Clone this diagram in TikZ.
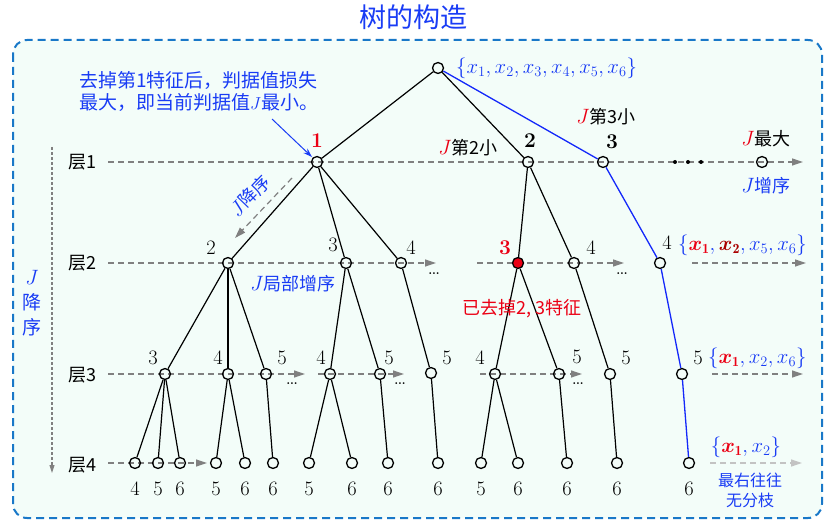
\documentclass[tikz,border=0pt]{standalone}
\usepackage{fontspec}
\usepackage{amsmath}
\usepackage{bm}
\usetikzlibrary{arrows.meta}
\newfontfamily\cjk{Noto Sans CJK SC}
\definecolor{tblue}{RGB}{25,60,245}
\definecolor{pblue}{RGB}{20,40,250}
\definecolor{mred}{RGB}{235,0,20}
\definecolor{dred}{RGB}{170,0,0}
\definecolor{lgray}{RGB}{128,128,128}
\definecolor{vlgray}{RGB}{195,195,195}
\definecolor{boxblue}{RGB}{25,120,200}
\definecolor{boxfill}{RGB}{243,253,249}
\tikzset{
  nd/.style={circle, draw=black, line width=1.3pt, minimum size=11pt, inner sep=0pt},
  rnd/.style={nd, fill=mred},
  bdot/.style={circle, fill=black, minimum size=4pt, inner sep=0pt},
  edge/.style={line width=1.2pt, draw=black},
  bedge/.style={line width=1.3pt, draw=pblue},
  lvl/.style={draw=lgray, dash pattern=on 6pt off 4pt, line width=1.2pt, -{Triangle[length=11pt,width=7pt,fill=lgray]}},
  lvll/.style={lvl, draw=vlgray, -{Triangle[length=11pt,width=7pt,fill=vlgray]}},
  numl/.style={inner sep=0pt, font=\fontsize{20.5}{22}\selectfont},
  bnuml/.style={inner sep=0pt, font=\fontsize{21}{22}\selectfont\bfseries},
  cjkl/.style={inner sep=0pt, font=\fontsize{18}{20}\selectfont\cjk},
  setl/.style={inner sep=0pt, text=tblue, font=\fontsize{20}{22}\selectfont},
  dotsl/.style={inner sep=0pt, font=\fontsize{22}{24}\selectfont},
}
\begin{document}
\begin{tikzpicture}[x=1pt, y=-1pt]
\useasboundingbox (0,0) rectangle (835,526);
% frame
\draw[draw=boxblue, fill=boxfill, line width=2pt, dash pattern=on 8pt off 5pt, rounded corners=14pt] (13,40) rectangle (822,518);
% title
\node[inner sep=0pt, text=tblue, font=\fontsize{27}{30}\selectfont\cjk] (title) at (413,17) {树的构造};

% left vertical arrow and labels
\coordinate (vs) at (52,147);
\coordinate (ve) at (52,473);
\draw[draw=lgray, line width=1.1pt, dash pattern=on 3pt off 2pt, -{Triangle[length=8pt,width=5pt,fill=lgray]}] (vs) -- (ve);
\node[inner sep=0pt, text=tblue, align=center, font=\fontsize{19}{25}\selectfont\cjk] (vj) at (32,303) {\fontsize{21}{25}\selectfont$J$\\降\\序};
\node[cjkl] (L1) at (82,162) {层1};
\node[cjkl] (L2) at (82,263) {层2};
\node[cjkl] (L3) at (82,375) {层3};
\node[cjkl] (L4) at (82,465) {层4};

% level lines
\coordinate (l1s) at (108,162); \coordinate (l1e) at (803,162);
\draw[lvl] (l1s) -- (l1e);
\coordinate (l2s) at (108,263); \coordinate (l2e) at (436,263);
\draw[lvl] (l2s) -- (l2e);
\coordinate (l2s2) at (477,263); \coordinate (l2e2) at (624,263);
\draw[lvl] (l2s2) -- (l2e2);
\coordinate (l2s3) at (692,263); \coordinate (l2e3) at (806,263);
\draw[lvl] (l2s3) -- (l2e3);
\coordinate (l3s) at (108,374); \coordinate (l3e) at (305,374);
\draw[lvl] (l3s) -- (l3e);
\coordinate (l3s2) at (318,374); \coordinate (l3e2) at (404,374);
\draw[lvl] (l3s2) -- (l3e2);
\coordinate (l3s3) at (480,374); \coordinate (l3e3) at (582,374);
\draw[lvl] (l3s3) -- (l3e3);
\coordinate (l3s4) at (712,374); \coordinate (l3e4) at (803,374);
\draw[lvl] (l3s4) -- (l3e4);
\coordinate (l4s) at (108,463); \coordinate (l4e) at (207,463);
\draw[lvl] (l4s) -- (l4e);
\coordinate (l4s2) at (710,463); \coordinate (l4e2) at (802,463);
\draw[lvll] (l4s2) -- (l4e2);

% dots
\node[dotsl] (dt2a) at (434,274) {\ldots};
\node[dotsl] (dt2b) at (622,274) {\ldots};
\node[dotsl] (dt3a) at (292,384) {\ldots};
\node[dotsl] (dt3b) at (400,384) {\ldots};
\node[dotsl] (dt3c) at (578,384) {\ldots};
\node[bdot] (bd1) at (675,162) {};
\node[bdot] (bd2) at (688,162) {};
\node[bdot] (bd3) at (701,162) {};

% nodes
\node[nd] (r) at (438,68) {};
\node[nd] (n1) at (317,162) {};
\node[nd] (n2) at (528,162) {};
\node[nd] (n3) at (603,162) {};
\node[nd] (n4) at (762,162) {};
\node[nd] (a1) at (228,263) {};
\node[nd] (a2) at (346,263) {};
\node[nd] (a3) at (401,263) {};
\node[rnd] (a4) at (518,263) {};
\node[nd] (a5) at (574,263) {};
\node[nd] (a6) at (660,263) {};
\node[nd] (b1) at (165,374) {};
\node[nd] (b2) at (228,374) {};
\node[nd] (b3) at (266,374) {};
\node[nd] (b4) at (330,374) {};
\node[nd] (b5) at (380,374) {};
\node[nd] (b6) at (431,373) {};
\node[nd] (b7) at (495,374) {};
\node[nd] (b8) at (559,374) {};
\node[nd] (b9) at (610,374) {};
\node[nd] (b10) at (682,374) {};
\foreach \i/\x/\t in {1/135/4,2/158/5,3/180/6,4/216/5,5/245/6,6/273/6,7/309/5,8/352/6,9/388/6,10/438/6,11/481/5,12/518/6,13/567/6,14/617/6,15/689/6}{
  \node[nd] (c\i) at (\x,463) {};
  \node[numl] (cl\i) at (\x,489) {\t};
}

% edges
\foreach \a/\b in {r/n1, r/n2, n1/a1, n1/a2, n1/a3, n2/a4, n2/a5,
  a1/b1, a1/b2, a1/b3, a2/b4, a2/b5, a3/b6, a4/b7, a4/b8, a5/b9,
  b1/c1, b1/c2, b1/c3, b2/c4, b2/c5, b3/c6, b4/c7, b4/c8, b5/c9, b6/c10,
  b7/c11, b7/c12, b8/c13, b9/c14}
  \draw[edge] (\a) -- (\b);
\foreach \a/\b in {r/n3, n3/a6, a6/b10, b10/c15}
  \draw[bedge] (\a) -- (\b);

% level 1 labels
\node[bnuml, text=mred] (t1) at (317,141) {1};
\node[bnuml] (t2) at (530,141) {2};
\node[bnuml] (t3) at (612,142) {3};
\node[cjkl] (j2) at (468,148) {\textcolor{mred}{\fontsize{21}{22}\selectfont$J$}第2小};
\node[cjkl] (j3) at (606,117) {\textcolor{mred}{\fontsize{21}{22}\selectfont$J$}第3小};
\node[cjkl] (jmax) at (766,139) {\textcolor{mred}{\fontsize{21}{22}\selectfont$J$}最大};
\node[cjkl, text=tblue] (jinc) at (766,186) {{\fontsize{21}{22}\selectfont$J$}增序};
\node[setl, anchor=west] (s0) at (456,68) {$\{x_1, x_2, x_3, x_4, x_5, x_6\}$};

% annotation
\node[inner sep=0pt, anchor=west, align=left, text=tblue, font=\fontsize{19}{22}\selectfont\cjk] (anno) at (79,91) {去掉第1特征后，判据值损失\\最大，即当前判据值$J$最小。};
\coordinate (annoS) at (272,119);
\draw[draw=tblue, line width=1pt, -{Stealth[length=9pt,width=6pt]}, shorten >=1pt] (annoS) -- (n1.north west);

% J descending along branch
\coordinate (jd1) at (292,178);
\coordinate (jd2) at (235,238);
\draw[lvl] (jd1) -- (jd2);
\node[cjkl, text=tblue, rotate=46] (jdec) at (250,196) {{\fontsize{21}{22}\selectfont$J$}降序};

% level 2 labels
\node[numl] (u1) at (211,248) {2};
\node[numl] (u2) at (333,245) {3};
\node[numl] (u3) at (411,248) {4};
\node[bnuml, text=mred] (u4) at (505,248) {3};
\node[numl] (u5) at (591,248) {4};
\node[numl] (u6) at (667,243) {4};
\node[setl, anchor=west] (s2) at (678,245) {$\{\textcolor{mred}{\bm{x}_{\mathbf{1}}}, \textcolor{dred}{\bm{x}_{\mathbf{2}}}, x_5, x_6\}$};
\node[cjkl, text=tblue] (jloc) at (293,284) {{\fontsize{21}{22}\selectfont$J$}局部增序};
\node[cjkl, text=mred] (rem) at (522,309) {已去掉2, 3特征};

% level 3 labels
\node[numl] (v1) at (153,358) {3};
\node[numl] (v2) at (218,358) {4};
\node[numl] (v3) at (282,358) {5};
\node[numl] (v4) at (321,358) {4};
\node[numl] (v5) at (389,358) {5};
\node[numl] (v6) at (447,358) {5};
\node[numl] (v7) at (480,358) {4};
\node[numl] (v8) at (577,357) {5};
\node[numl] (v9) at (626,358) {5};
\node[numl] (v10) at (698,358) {5};
\node[setl, anchor=west] (s3) at (708,358) {$\{\textcolor{mred}{\bm{x}_{\mathbf{1}}}, x_2, x_6\}$};

% level 4 right
\node[setl] (s4) at (746,447) {$\{\textcolor{mred}{\bm{x}_{\mathbf{1}}}, x_2\}$};
\node[inner sep=0pt, align=center, text=tblue, font=\fontsize{16}{20}\selectfont\cjk] (rr) at (750,490) {最右往往\\无分枝};
\end{tikzpicture}
\end{document}
